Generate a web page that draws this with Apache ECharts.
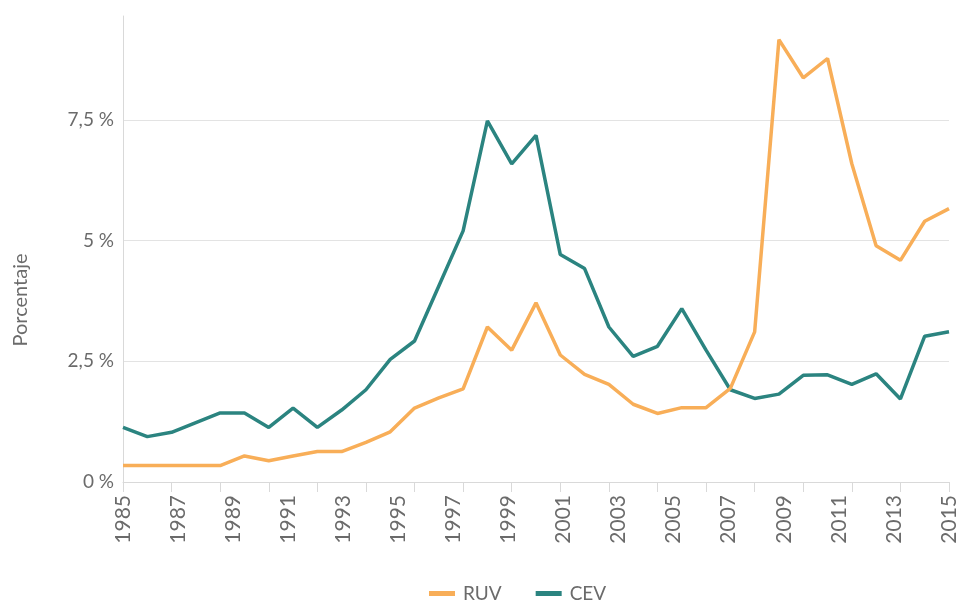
<!DOCTYPE html>
<html>
<head>
<meta charset="utf-8">
<script src="https://cdn.jsdelivr.net/npm/echarts@6/dist/echarts.min.js"></script>
<style>html,body{margin:0;padding:0;background:#fff}#c{width:960px;height:600px}</style>
</head>
<body>
<div id="c"></div>
<script>
// 35 data points along the x axis
const pointCategories = ['1','2','3','4','5','6','7','8','9','10','11','12','13','14','15','16','17','18','19','20','21','22','23','24','25','26','27','28','29','30','31','32','33','34','35'];
// tick labels shown under the x axis
const yearLabels = ['1985','1987','1989','1991','1993','1995','1997','1999','2001','2003','2005','2007','2009','2011','2013','2015'];
const ruv = [0.34,0.34,0.34,0.34,0.34,0.54,0.44,0.54,0.63,0.63,0.82,1.04,1.53,1.74,1.93,3.21,2.73,3.71,2.63,2.23,2.02,1.61,1.42,1.54,1.54,1.94,3.11,9.16,8.37,8.77,6.59,4.89,4.59,5.40,5.66];
const cev = [1.13,0.94,1.03,1.23,1.43,1.43,1.13,1.53,1.13,1.49,1.91,2.54,2.92,4.06,5.20,7.48,6.59,7.18,4.71,4.42,3.21,2.60,2.81,3.59,2.73,1.91,1.73,1.82,2.21,2.22,2.02,2.24,1.72,3.02,3.11];
const yTitle = 'Porcentaje';

const FONT = 'Lato';
const GREY = '#6b6b6b';
const chart = echarts.init(document.getElementById('c'), null, {renderer: 'canvas'});
chart.setOption({
  animation: false,
  textStyle: {fontFamily: FONT},
  grid: {left: 123, right: 11, top: 16, bottom: 118, containLabel: false},
  legend: {
    data: ['RUV', 'CEV'],
    left: 424, top: 579,
    icon: 'rect', itemWidth: 26, itemHeight: 5, itemGap: 34,
    textStyle: {fontFamily: FONT, fontSize: 19, color: GREY, padding: [0, 0, 0, 3]}
  },
  graphic: [{
    type: 'text', x: 21, y: 300, rotation: Math.PI / 2,
    style: {text: yTitle, fontFamily: FONT, fontSize: 20, fill: GREY, align: 'center', verticalAlign: 'middle'}
  }],
  xAxis: [{
    type: 'category', data: pointCategories, boundaryGap: false,
    axisLine: {lineStyle: {color: '#d9d9d9', width: 1}},
    axisTick: {show: true, interval: 1, length: 10, lineStyle: {color: '#d9d9d9'}},
    axisLabel: {show: false},
    splitLine: {show: false}
  }, {
    type: 'category', data: yearLabels, boundaryGap: false, position: 'bottom',
    axisLine: {show: false}, axisTick: {show: false}, splitLine: {show: false},
    axisLabel: {interval: 0, rotate: 90, margin: 13, fontFamily: FONT, fontSize: 21, color: GREY}
  }],
  yAxis: {
    type: 'value', min: 0, max: 9.65, interval: 2.5,
    axisLine: {show: true, lineStyle: {color: '#d9d9d9'}},
    axisTick: {show: false},
    axisLabel: {
      margin: 9, fontFamily: FONT, fontSize: 19, color: GREY, showMaxLabel: false,
      formatter: v => String(v).replace('.', ',') + ' %'
    },
    splitLine: {show: true, showMaxLine: false, lineStyle: {color: '#e3e3e3', width: 1.2}}
  },
  series: [
    {name: 'CEV', type: 'line', data: cev, xAxisIndex: 0, showSymbol: false, symbol: 'none',
     lineStyle: {color: '#2b8480', width: 3.5}, itemStyle: {color: '#2b8480'}},
    {name: 'RUV', type: 'line', data: ruv, xAxisIndex: 0, showSymbol: false, symbol: 'none',
     lineStyle: {color: '#f8ae58', width: 3.5}, itemStyle: {color: '#f8ae58'}}
  ]
});
</script>
</body>
</html>
